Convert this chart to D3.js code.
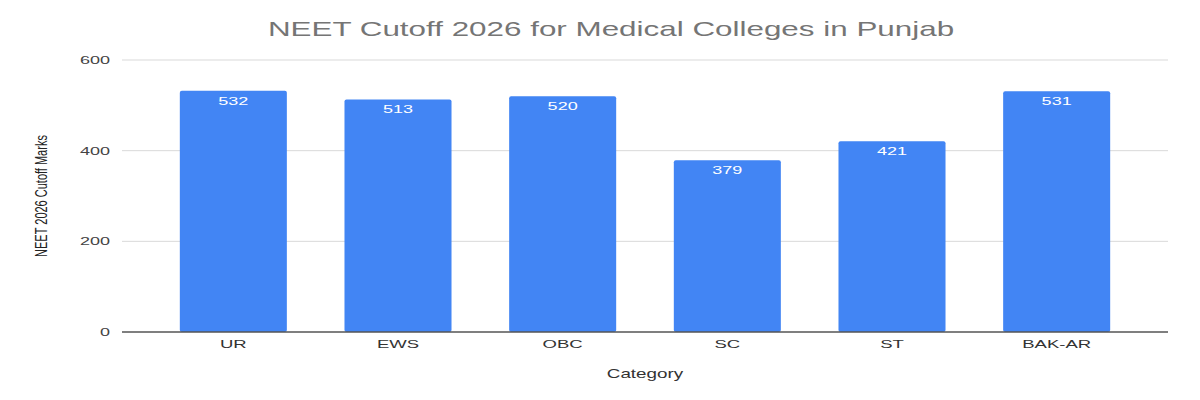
<!DOCTYPE html>
<html>
<head>
<meta charset="utf-8">
<script src="https://cdn.jsdelivr.net/npm/d3@7"></script>
<style>
  html, body { margin: 0; padding: 0; background: #fff; }
  svg { display: block; font-family: "Liberation Sans", Arial, sans-serif; }
</style>
</head>
<body>
<svg id="chart" width="1200" height="400"></svg>
<script>
const categories = ["UR", "EWS", "OBC", "SC", "ST", "BAK-AR"];
const cutoffMarks = [532, 513, 520, 379, 421, 531];
const yTicks = [0, 200, 400, 600];
const chartTitle = "NEET Cutoff 2026 for Medical Colleges in Punjab";
const xTitle = "Category";
const yTitle = "NEET 2026 Cutoff Marks";

const W = 1200, H = 400;
const SX = 1.57; // horizontal stretch of the text glyphs
const plot = { left: 122, right: 1168, top: 60, bottom: 332 };
const sideGap = 29;

const svg = d3.select("#chart");

const x = d3.scaleBand()
  .domain(categories)
  .range([plot.left + sideGap, plot.right - sideGap])
  .paddingInner(0.35)
  .paddingOuter(0.175);

const y = d3.scaleLinear().domain([0, 600]).range([plot.bottom, plot.top]);

function stretchedText(g, px, py, str, opts) {
  const t = g.append("text")
    .attr("transform", `translate(${px},${py}) scale(${SX},1)` + (opts.rotate ? ` rotate(${opts.rotate})` : ""))
    .attr("text-anchor", opts.anchor || "middle")
    .attr("font-size", opts.size)
    .attr("fill", opts.fill)
    .text(str);
  if (opts.weight) t.attr("font-weight", opts.weight);
  if (opts.dy) t.attr("dy", opts.dy);
  return t;
}

// Grid lines
svg.append("g").selectAll("line.grid")
  .data(yTicks.filter(d => d !== 0))
  .join("line")
  .attr("x1", plot.left).attr("x2", plot.right)
  .attr("y1", d => y(d)).attr("y2", d => y(d))
  .attr("stroke", "#d9d9d9").attr("stroke-width", 1);

// Y tick labels
const yg = svg.append("g");
yTicks.forEach(t => {
  stretchedText(yg, 110, y(t), String(t), { anchor: "end", size: 11.5, fill: "#444", dy: "0.35em" });
});

// Bars
svg.append("g").selectAll("rect")
  .data(categories.map((c, i) => ({ c, v: cutoffMarks[i] })))
  .join("rect")
  .attr("x", d => x(d.c))
  .attr("width", x.bandwidth())
  .attr("y", d => y(d.v))
  .attr("height", d => y(0) - y(d.v))
  .attr("rx", 2)
  .attr("fill", "#4285f4");

// Baseline
svg.append("line")
  .attr("x1", plot.left).attr("x2", plot.right)
  .attr("y1", y(0)).attr("y2", y(0))
  .attr("stroke", "#555").attr("stroke-width", 1.3);

// Data labels
const lg = svg.append("g");
categories.forEach((c, i) => {
  stretchedText(lg, x(c) + x.bandwidth() / 2, y(cutoffMarks[i]) + 14, String(cutoffMarks[i]),
    { size: 11.5, fill: "#ffffff" });
});

// X tick labels
const xg = svg.append("g");
categories.forEach(c => {
  stretchedText(xg, x(c) + x.bandwidth() / 2, 348, c, { size: 11.8, fill: "#333" });
});

// Axis titles
stretchedText(svg, (plot.left + plot.right) / 2, 378, xTitle, { size: 12, fill: "#333" });
stretchedText(svg, 47, (plot.top + plot.bottom) / 2, yTitle, { size: 11, fill: "#222", rotate: -90 });

// Chart title
stretchedText(svg, 611, 36, chartTitle, { size: 20, fill: "#757575" });
</script>
</body>
</html>
